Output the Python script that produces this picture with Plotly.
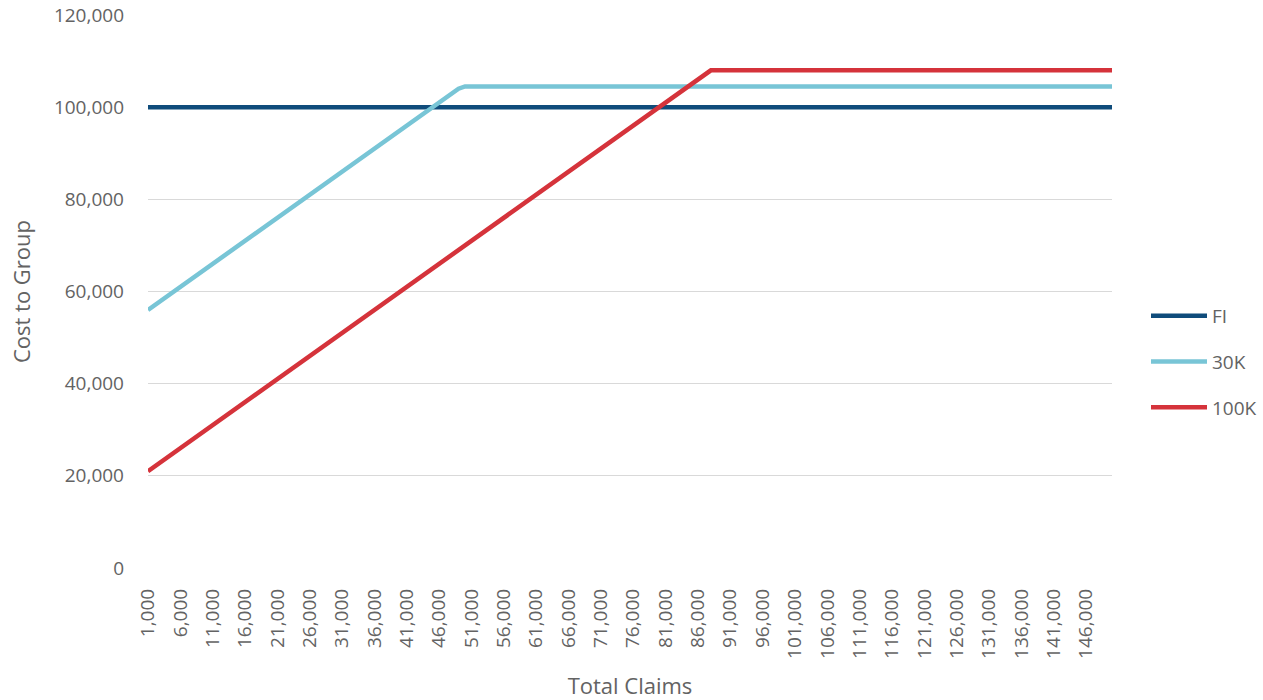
import plotly.graph_objects as go

claims = [
    1000, 2000, 3000, 4000, 5000, 6000, 7000, 8000, 9000, 10000,
    11000, 12000, 13000, 14000, 15000, 16000, 17000, 18000, 19000, 20000,
    21000, 22000, 23000, 24000, 25000, 26000, 27000, 28000, 29000, 30000,
    31000, 32000, 33000, 34000, 35000, 36000, 37000, 38000, 39000, 40000,
    41000, 42000, 43000, 44000, 45000, 46000, 47000, 48000, 49000, 50000,
    51000, 52000, 53000, 54000, 55000, 56000, 57000, 58000, 59000, 60000,
    61000, 62000, 63000, 64000, 65000, 66000, 67000, 68000, 69000, 70000,
    71000, 72000, 73000, 74000, 75000, 76000, 77000, 78000, 79000, 80000,
    81000, 82000, 83000, 84000, 85000, 86000, 87000, 88000, 89000, 90000,
    91000, 92000, 93000, 94000, 95000, 96000, 97000, 98000, 99000, 100000,
    101000, 102000, 103000, 104000, 105000, 106000, 107000, 108000, 109000, 110000,
    111000, 112000, 113000, 114000, 115000, 116000, 117000, 118000, 119000, 120000,
    121000, 122000, 123000, 124000, 125000, 126000, 127000, 128000, 129000, 130000,
    131000, 132000, 133000, 134000, 135000, 136000, 137000, 138000, 139000, 140000,
    141000, 142000, 143000, 144000, 145000, 146000, 147000, 148000, 149000, 150000,
]

cost_fi = [
    100000, 100000, 100000, 100000, 100000, 100000, 100000, 100000, 100000, 100000,
    100000, 100000, 100000, 100000, 100000, 100000, 100000, 100000, 100000, 100000,
    100000, 100000, 100000, 100000, 100000, 100000, 100000, 100000, 100000, 100000,
    100000, 100000, 100000, 100000, 100000, 100000, 100000, 100000, 100000, 100000,
    100000, 100000, 100000, 100000, 100000, 100000, 100000, 100000, 100000, 100000,
    100000, 100000, 100000, 100000, 100000, 100000, 100000, 100000, 100000, 100000,
    100000, 100000, 100000, 100000, 100000, 100000, 100000, 100000, 100000, 100000,
    100000, 100000, 100000, 100000, 100000, 100000, 100000, 100000, 100000, 100000,
    100000, 100000, 100000, 100000, 100000, 100000, 100000, 100000, 100000, 100000,
    100000, 100000, 100000, 100000, 100000, 100000, 100000, 100000, 100000, 100000,
    100000, 100000, 100000, 100000, 100000, 100000, 100000, 100000, 100000, 100000,
    100000, 100000, 100000, 100000, 100000, 100000, 100000, 100000, 100000, 100000,
    100000, 100000, 100000, 100000, 100000, 100000, 100000, 100000, 100000, 100000,
    100000, 100000, 100000, 100000, 100000, 100000, 100000, 100000, 100000, 100000,
    100000, 100000, 100000, 100000, 100000, 100000, 100000, 100000, 100000, 100000,
]

cost_30k = [
    56000, 57000, 58000, 59000, 60000, 61000, 62000, 63000, 64000, 65000,
    66000, 67000, 68000, 69000, 70000, 71000, 72000, 73000, 74000, 75000,
    76000, 77000, 78000, 79000, 80000, 81000, 82000, 83000, 84000, 85000,
    86000, 87000, 88000, 89000, 90000, 91000, 92000, 93000, 94000, 95000,
    96000, 97000, 98000, 99000, 100000, 101000, 102000, 103000, 104000, 104500,
    104500, 104500, 104500, 104500, 104500, 104500, 104500, 104500, 104500, 104500,
    104500, 104500, 104500, 104500, 104500, 104500, 104500, 104500, 104500, 104500,
    104500, 104500, 104500, 104500, 104500, 104500, 104500, 104500, 104500, 104500,
    104500, 104500, 104500, 104500, 104500, 104500, 104500, 104500, 104500, 104500,
    104500, 104500, 104500, 104500, 104500, 104500, 104500, 104500, 104500, 104500,
    104500, 104500, 104500, 104500, 104500, 104500, 104500, 104500, 104500, 104500,
    104500, 104500, 104500, 104500, 104500, 104500, 104500, 104500, 104500, 104500,
    104500, 104500, 104500, 104500, 104500, 104500, 104500, 104500, 104500, 104500,
    104500, 104500, 104500, 104500, 104500, 104500, 104500, 104500, 104500, 104500,
    104500, 104500, 104500, 104500, 104500, 104500, 104500, 104500, 104500, 104500,
]

cost_100k = [
    21000, 22000, 23000, 24000, 25000, 26000, 27000, 28000, 29000, 30000,
    31000, 32000, 33000, 34000, 35000, 36000, 37000, 38000, 39000, 40000,
    41000, 42000, 43000, 44000, 45000, 46000, 47000, 48000, 49000, 50000,
    51000, 52000, 53000, 54000, 55000, 56000, 57000, 58000, 59000, 60000,
    61000, 62000, 63000, 64000, 65000, 66000, 67000, 68000, 69000, 70000,
    71000, 72000, 73000, 74000, 75000, 76000, 77000, 78000, 79000, 80000,
    81000, 82000, 83000, 84000, 85000, 86000, 87000, 88000, 89000, 90000,
    91000, 92000, 93000, 94000, 95000, 96000, 97000, 98000, 99000, 100000,
    101000, 102000, 103000, 104000, 105000, 106000, 107000, 108000, 108000, 108000,
    108000, 108000, 108000, 108000, 108000, 108000, 108000, 108000, 108000, 108000,
    108000, 108000, 108000, 108000, 108000, 108000, 108000, 108000, 108000, 108000,
    108000, 108000, 108000, 108000, 108000, 108000, 108000, 108000, 108000, 108000,
    108000, 108000, 108000, 108000, 108000, 108000, 108000, 108000, 108000, 108000,
    108000, 108000, 108000, 108000, 108000, 108000, 108000, 108000, 108000, 108000,
    108000, 108000, 108000, 108000, 108000, 108000, 108000, 108000, 108000, 108000,
]

x_tick_values = [1000, 6000, 11000, 16000, 21000, 26000, 31000, 36000, 41000, 46000,
                 51000, 56000, 61000, 66000, 71000, 76000, 81000, 86000, 91000, 96000,
                 101000, 106000, 111000, 116000, 121000, 126000, 131000, 136000, 141000, 146000]
x_tick_labels = ["1,000", "6,000", "11,000", "16,000", "21,000", "26,000", "31,000", "36,000",
                 "41,000", "46,000", "51,000", "56,000", "61,000", "66,000", "71,000", "76,000",
                 "81,000", "86,000", "91,000", "96,000", "101,000", "106,000", "111,000",
                 "116,000", "121,000", "126,000", "131,000", "136,000", "141,000", "146,000"]
y_tick_values = [0, 20000, 40000, 60000, 80000, 100000, 120000]
y_tick_labels = ["0", "20,000", "40,000", "60,000", "80,000", "100,000", "120,000"]

series = [
    ("FI", cost_fi, "#0F4C7B"),
    ("30K", cost_30k, "#78C5D6"),
    ("100K", cost_100k, "#D5333B"),
]

fig = go.Figure()
for i, (name, vals, color) in enumerate(series):
    fig.add_trace(go.Scatter(
        x=claims, y=vals, name=name, mode="lines",
        legendgroup=f"g{i}",
        line=dict(color=color, width=4.5),
        hoverinfo="skip",
    ))

font_family = "Open Sans, Noto Sans, sans-serif"
text_color = "#636363"

fig.update_layout(
    width=1263, height=700,
    margin=dict(l=148, r=151, t=15, b=132),
    paper_bgcolor="white", plot_bgcolor="white",
    font=dict(family=font_family, color=text_color, size=18),
    showlegend=True,
    legend=dict(
        xref="container", yref="container",
        x=1146 / 1263, y=1 - 297 / 700, xanchor="left", yanchor="top",
        traceorder="grouped", tracegroupgap=18,
        font=dict(size=19, color=text_color),
        bgcolor="rgba(0,0,0,0)",
        itemwidth=56,
    ),
    xaxis=dict(
        range=[1000, 150000], automargin=False,
        tickmode="array", tickvals=x_tick_values, ticktext=x_tick_labels,
        tickangle=-90, showgrid=False, zeroline=False,
        showline=False, ticks="",
        ticklabelstandoff=16,
        tickfont=dict(size=19, color=text_color),
        title=dict(text="Total Claims", font=dict(size=22, color=text_color), standoff=22),
    ),
    yaxis=dict(
        range=[0, 120000], automargin=False,
        tickmode="array", tickvals=y_tick_values, ticktext=y_tick_labels,
        showgrid=True, gridcolor="#D9D9D9", gridwidth=1,
        zeroline=False, showline=False, ticks="",
        ticklabelstandoff=23,
        tickfont=dict(size=19, color=text_color),
        title=dict(text="Cost to Group", font=dict(size=22, color=text_color), standoff=17),
    ),
)

fig.write_html(
    "out.html",
    config={"displayModeBar": False, "staticPlot": True},
    post_script="document.body.style.margin='0';document.body.style.padding='0';",
)
